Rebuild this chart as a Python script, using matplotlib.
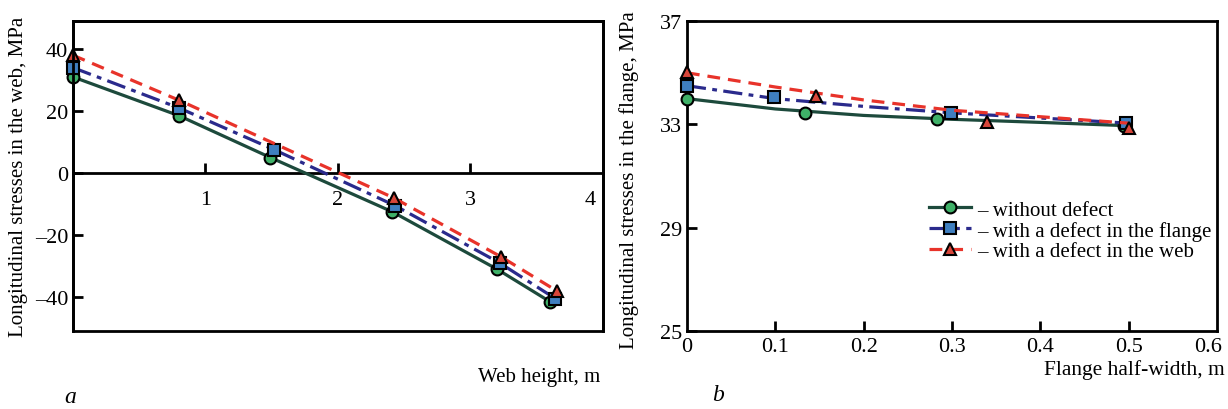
import matplotlib
matplotlib.use("Agg")
import matplotlib.pyplot as plt
from matplotlib.patches import Rectangle

plt.rcParams["font.family"] = ["Liberation Serif", "DejaVu Serif"]

# panel a: web height (m) vs longitudinal stress in the web (MPa)
webX_no = [0.0, 0.8, 1.49, 2.41, 3.2, 3.6]
webY_no = [31.0, 18.5, 5.0, -12.5, -31.0, -41.5]
webX_fl = [0.0, 0.8, 1.52, 2.43, 3.22, 3.64]
webY_fl = [34.0, 21.0, 7.5, -10.5, -29.0, -40.5]
webX_wb = [0.0, 0.8, 2.42, 3.23, 3.65]
webY_wb = [38.0, 23.5, -8.0, -27.0, -38.0]

# panel b: flange half-width (m) vs longitudinal stress in the flange (MPa)
flX_no = [0.0, 0.134, 0.283, 0.495]
flY_no = [34.0, 33.45, 33.2, 32.95]
flX_fl = [0.0, 0.099, 0.299, 0.497]
flY_fl = [34.5, 34.05, 33.45, 33.05]
flX_wb = [0.0, 0.146, 0.34, 0.5]
flY_wb = [35.05, 34.1, 33.1, 32.88]
# curves
curveX = [0.0, 0.1, 0.2, 0.3, 0.4, 0.5]
curve_no = [34.0, 33.6, 33.35, 33.2, 33.08, 32.95]
curve_fl = [34.5, 34.0, 33.7, 33.45, 33.25, 33.05]
curve_wb = [35.0, 34.45, 33.95, 33.55, 33.3, 33.05]

labels = ["\u2013 without defect", "\u2013 with a defect in the flange",
          "\u2013 with a defect in the web"]
webTicks = [1, 2, 3, 3.9]
webTickLabels = ["1", "2", "3", "4"]
flTicks = [0, 0.1, 0.2, 0.3, 0.4, 0.5, 0.59]
flTickLabels = ["0", "0.1", "0.2", "0.3", "0.4", "0.5", "0.6"]

lineCol = ["#1d4a3c", "#2a2a8c", "#e8332a"]
faceCol = ["#3fb168", "#3f7fc0", "#d8463a"]
styles = ["-", (0, (6, 2, 1.5, 2)), (0, (4, 2.5))]
marks = ["o", "s", "^"]

fig = plt.figure(figsize=(12.28, 4.10), dpi=100)
axA = fig.add_axes([0.0594, 0.19, 0.4316, 0.756])
axB = fig.add_axes([0.5594, 0.19, 0.4316, 0.756])

def series(ax, x, y, i, line=True, mk=True):
	ax.plot(x, y, linestyle=styles[i] if line else "none", color=lineCol[i], lw=2.3,
			marker=marks[i] if mk else None, ms=8.5, mfc=faceCol[i], mec="black",
			mew=1.5, clip_on=False, zorder=3 + i)

# ---- panel a
series(axA, webX_no, webY_no, 0)
series(axA, webX_fl, webY_fl, 1)
series(axA, webX_wb, webY_wb, 2)
axA.set_xlim(0, 4)
axA.set_ylim(-51, 49)
axA.set_yticks([-40, -20, 0, 20, 40])
axA.set_yticklabels(["\u201340", "\u201320", "0", "20", "40"])
axA.set_xticks(webTicks)
axA.set_xticklabels(webTickLabels)
axA.spines["bottom"].set_position(("data", 0))
axA.add_patch(Rectangle((0, 0), 1, 1, transform=axA.transAxes, fill=False,
						lw=2, ec="black", clip_on=False, zorder=10))
axA.set_ylabel("Longitudinal stresses in the web, MPa", fontsize=15)
axA.yaxis.set_label_coords(-0.085, 0.5)

# ---- panel b
series(axB, curveX, curve_no, 0, mk=False)
series(axB, curveX, curve_fl, 1, mk=False)
series(axB, curveX, curve_wb, 2, mk=False)
series(axB, flX_no, flY_no, 0, line=False)
series(axB, flX_fl, flY_fl, 1, line=False)
series(axB, flX_wb, flY_wb, 2, line=False)
axB.set_xlim(0, 0.6)
axB.set_ylim(25, 37)
axB.set_yticks([25, 29, 33, 37])
axB.set_xticks(flTicks)
axB.set_xticklabels(flTickLabels)
axB.set_ylabel("Longitudinal stresses in the flange, MPa", fontsize=15)
axB.yaxis.set_label_coords(-0.09, 0.49)

handles = []
for i in range(3):
	h, = axB.plot([], [], linestyle=styles[i], color=lineCol[i], lw=2.3, marker=marks[i],
				  ms=8.5, mfc=faceCol[i], mec="black", mew=1.5)
	handles.append(h)
axB.legend(handles, labels, loc="upper left", bbox_to_anchor=(0.43, 0.47), frameon=False,
		   fontsize=15, handlelength=2.0, handletextpad=0.3, labelspacing=0.05,
		   borderpad=0.2)

for ax in (axA, axB):
	for s in ax.spines.values():
		s.set_linewidth(2)
	ax.tick_params(direction="in", length=7, width=2, labelsize=16)
axA.tick_params(axis="x", pad=12)
axB.tick_params(axis="x", pad=4)
axA.xaxis.get_major_ticks()[-1].tick1line.set_visible(False)
axB.xaxis.get_major_ticks()[-1].tick1line.set_visible(False)
axB.xaxis.get_major_ticks()[0].tick1line.set_visible(False)

fig.text(0.489, 0.08, "Web height, m", ha="right", va="center", fontsize=15)
fig.text(0.997, 0.098, "Flange half-width, m", ha="right", va="center", fontsize=15.5)
fig.text(0.057, 0.03, "a", style="italic", fontsize=17, ha="center", va="center")
fig.text(0.585, 0.035, "b", style="italic", fontsize=17, ha="center", va="center")

plt.savefig("out.png", dpi=100)
